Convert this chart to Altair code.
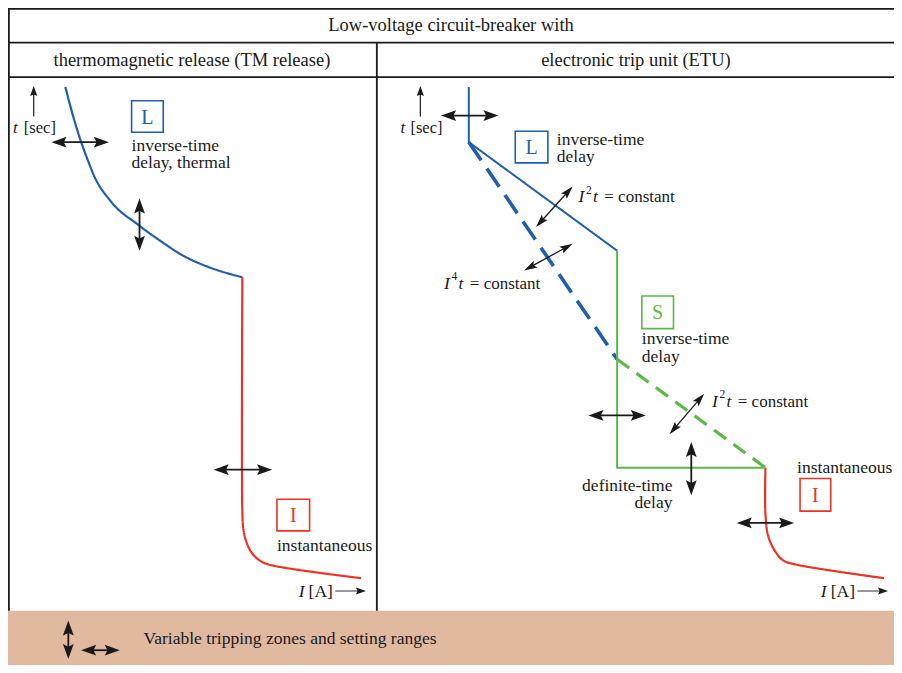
import math
import altair as alt
import pandas as pd

# ---------------- canvas: reference pixel units mapped onto the plot area ----------------
RX0, RX1 = 6, 902      # reference extent (x)
RY0, RY1 = 7, 673      # reference extent (y)
W, H = 886, 657        # plot area (fits inside the 902x673 window with its 8px margin)

BLUE = "#1f5fad"
RED = "#ec3326"
GREEN = "#5cb848"
TAN = "#e1b99f"
INK = "#1a1a1a"
GREY = "#555555"
SERIF = "Liberation Serif"

# ---------------- table frame ----------------
FRAME_H_Y = [7.8, 42, 77]
FRAME_H_X1 = [6, 6, 6]
FRAME_H_X2 = [902, 902, 902]
FRAME_V_X = [6.9, 379]
FRAME_V_Y1 = [7, 42]
FRAME_V_Y2 = [618, 618]
BAND = dict(x=6, x2=902, y=618, y2=673)

# ---------------- curves ----------------
# TM release, L (thermal inverse-time)
TM_L_X = [64, 70, 80, 87, 93, 110, 138, 160, 183, 210, 243]
TM_L_Y = [87, 110, 143, 162, 177, 203, 227, 243, 258, 270, 280]
# TM release, I (instantaneous)
TM_I_X = [243, 243, 244, 247, 253, 262, 273, 363]
TM_I_Y = [280, 518, 535, 548, 560, 568, 572, 585]
# ETU, L
ETU_L_X = [472, 472, 622]
ETU_L_Y = [87, 143, 253]
ETU_L4_X = [472, 622]
ETU_L4_Y = [143, 363]
# ETU, S
ETU_S_X = [622, 622, 772]
ETU_S_Y = [253, 473, 473]
ETU_S2_X = [622, 772]
ETU_S2_Y = [363, 473]
# ETU, I
ETU_I_X = [772, 772, 775, 782, 790, 802, 892]
ETU_I_Y = [473, 520, 543, 558, 567, 571, 585]

# (name, x, y, colour, width, dash, interpolation)
curves = [
    ("tm_l", TM_L_X, TM_L_Y, BLUE, 2.2, [1, 0], "monotone"),
    ("tm_i", TM_I_X, TM_I_Y, RED, 2.2, [1, 0], "catmull-rom"),
    ("etu_l", ETU_L_X, ETU_L_Y, BLUE, 2.0, [1, 0], "linear"),
    ("etu_l4", ETU_L4_X, ETU_L4_Y, BLUE, 3.6, [22, 10], "linear"),
    ("etu_s", ETU_S_X, ETU_S_Y, GREEN, 2.0, [1, 0], "linear"),
    ("etu_s2", ETU_S2_X, ETU_S2_Y, GREEN, 3.2, [15, 9], "linear"),
    ("etu_i", ETU_I_X, ETU_I_Y, RED, 2.2, [1, 0], "catmull-rom"),
]

# ---------------- arrows: (x1, y1, x2, y2, double-headed, kind) ----------------
ARROWS = [
    (50, 143, 108, 143, True, "big"),
    (139, 200, 139, 253, True, "big"),
    (214, 475, 273, 475, True, "big"),
    (444, 116, 502, 116, True, "big"),
    (540, 229, 577, 188, True, "thin"),
    (528, 273, 577, 246, True, "thin"),
    (593, 420, 651, 420, True, "big"),
    (675, 439, 710, 398, True, "thin"),
    (697, 447, 697, 501, True, "big"),
    (743, 529, 801, 529, True, "big"),
    (67, 628, 67, 667, True, "big"),
    (80, 658, 119, 658, True, "big"),
    (32, 117, 32, 86, False, "axis"),
    (423, 117, 423, 86, False, "axis"),
    (337, 598, 368, 598, False, "axis"),
    (865, 598, 896, 598, False, "axis"),
]
# head length, shaft width
HEAD = {"big": (15, 1.8), "thin": (13, 1.3), "axis": (10, 1.2)}

# ---------------- boxes ----------------
BOX_LABEL = ["L", "I", "L", "S", "I"]
BOX_X1 = [131, 278, 519, 647, 807]
BOX_X2 = [163, 311, 552, 679, 838]
BOX_Y1 = [101, 505, 132, 299, 484]
BOX_Y2 = [133, 537, 164, 332, 517]
BOX_COLOR = [BLUE, RED, BLUE, GREEN, RED]

# ---------------- texts ----------------
TXT_CENTER = [
    ("Low-voltage circuit-breaker with", 454, 24, 18.5),
    ("thermomagnetic release (TM release)", 192, 60, 18.5),
    ("electronic trip unit (ETU)", 641, 60, 18.5),
]
TXT_LEFT = [
    ("inverse-time", 131, 147, 17.5),
    ("delay, thermal", 131, 164, 17.5),
    ("instantaneous", 278, 552, 17.5),
    ("inverse-time", 561, 141, 17.5),
    ("delay", 561, 158, 17.5),
    ("inverse-time", 647, 343, 17.5),
    ("delay", 647, 361, 17.5),
    ("instantaneous", 804, 473, 17.5),
    ("Variable tripping zones and setting ranges", 143, 647, 17.5),
    ("[sec]", 22, 129, 16.5),
    ("[sec]", 413, 129, 16.5),
    ("[A]", 310, 599, 17.5),
    ("[A]", 838, 599, 17.5),
    ("= constant", 609, 199, 17),
    ("= constant", 473, 287, 17),
    ("= constant", 744, 406, 17),
]
TXT_RIGHT = [
    ("definite-time", 678, 492, 17.5),
    ("delay", 678, 509, 17.5),
]
TXT_ITALIC = [
    ("t", 11, 129, 17), ("t", 403, 129, 17),
    ("I", 300, 599, 17.5), ("I", 828, 599, 17.5),
    ("I", 583, 199, 17.5), ("t", 597.5, 199, 17.5),
    ("I", 447, 287, 17.5), ("t", 461.5, 287, 17.5),
    ("I", 718, 406, 17.5), ("t", 732.5, 406, 17.5),
]
TXT_SUP = [("2", 590.5, 192, 11.5), ("4", 454.5, 280, 11.5), ("2", 725.5, 399, 11.5)]

# ---------------- build tables ----------------
xs = alt.Scale(domain=[RX0, RX1], range=[0, W])
ys = alt.Scale(domain=[RY0, RY1], range=[0, H])

rows = []
for name, cx, cy, col, sw, dash, interp in curves:
    for i, (a, b) in enumerate(zip(cx, cy)):
        rows.append(dict(g=name, i=i, x=a, y=b, c=col, w=sw, d=dash, m=interp))
curve_df = pd.DataFrame(rows)

shafts, heads = [], []
for (x1, y1, x2, y2, dbl, kind) in ARROWS:
    L, sw = HEAD[kind]
    dx, dy = x2 - x1, y2 - y1
    n = math.hypot(dx, dy)
    ux, uy = dx / n, dy / n
    back = L * 0.6
    sx1, sy1 = (x1 + ux * back, y1 + uy * back) if dbl else (x1, y1)
    sx2, sy2 = x2 - ux * back, y2 - uy * back
    shafts.append(dict(x=sx1, y=sy1, x2=sx2, y2=sy2, c=(GREY if kind == "axis" and not dbl and dy == 0 else INK), w=sw))
    ang = math.degrees(math.atan2(ux, -uy)) % 360
    heads.append(dict(x=x2, y=y2, a=ang, s=(2 * L) ** 2, k=kind))
    if dbl:
        heads.append(dict(x=x1, y=y1, a=(ang + 180) % 360, s=(2 * L) ** 2, k=kind))
shaft_df = pd.DataFrame(shafts)
head_df = pd.DataFrame(heads)

frame_h = pd.DataFrame(dict(x=FRAME_H_X1, x2=FRAME_H_X2, y=FRAME_H_Y))
frame_v = pd.DataFrame(dict(x=FRAME_V_X, y=FRAME_V_Y1, y2=FRAME_V_Y2))
band_df = pd.DataFrame([BAND])
box_df = pd.DataFrame(dict(t=BOX_LABEL, x=BOX_X1, x2=BOX_X2, y=BOX_Y1, y2=BOX_Y2, c=BOX_COLOR))
box_df["cx"] = (box_df.x + box_df.x2) / 2
box_df["cy"] = (box_df.y + box_df.y2) / 2


def tdf(lst):
    return pd.DataFrame(lst, columns=["t", "x", "y", "s"])


X = lambda f="x": alt.X(f"{f}:Q", scale=xs, axis=None)
Y = lambda f="y": alt.Y(f"{f}:Q", scale=ys, axis=None)

band = alt.Chart(band_df).mark_rect(color=TAN).encode(
    x=X(), x2="x2:Q", y=Y(), y2="y2:Q")
fh = alt.Chart(frame_h).mark_rule(color=INK, strokeWidth=1.8).encode(
    x=X(), x2="x2:Q", y=Y())
fv = alt.Chart(frame_v).mark_rule(color=INK, strokeWidth=1.8).encode(
    x=X(), y=Y(), y2="y2:Q")

line_layers = []
for interp in ["monotone", "catmull-rom", "linear"]:
    d = curve_df[curve_df.m == interp]
    line_layers.append(
        alt.Chart(d).mark_line(strokeCap="butt", strokeJoin="round", interpolate=interp).encode(
            x=X(), y=Y(), detail="g:N", order="i:Q",
            color=alt.Color("c:N", scale=None),
            strokeWidth=alt.StrokeWidth("w:Q", scale=None),
            strokeDash=alt.StrokeDash("d", scale=None),
        )
    )

shaft = alt.Chart(shaft_df).mark_rule().encode(
    x=X(), y=Y(), x2="x2:Q", y2="y2:Q",
    color=alt.Color("c:N", scale=None),
    strokeWidth=alt.StrokeWidth("w:Q", scale=None),
)

HEAD_SHAPE = {"big": "M0,0L0.36,1L0,0.82L-0.36,1Z",
              "thin": "M0,0L0.3,1L0,0.82L-0.3,1Z",
              "axis": "M0,0L0.36,1L0,0.85L-0.36,1Z"}
head_layers = []
for k, shp in HEAD_SHAPE.items():
    d = head_df[head_df.k == k]
    if len(d):
        head_layers.append(
            alt.Chart(d).mark_point(shape=shp, filled=True, color=INK, opacity=1, strokeWidth=0).encode(
                x=X(), y=Y(),
                angle=alt.Angle("a:Q", scale=None),
                size=alt.Size("s:Q", scale=None),
            )
        )

boxes = alt.Chart(box_df).mark_rect(fill="white", fillOpacity=0, strokeWidth=1.6).encode(
    x=X(), x2="x2:Q", y=Y(), y2="y2:Q", stroke=alt.Stroke("c:N", scale=None))
box_txt = alt.Chart(box_df).mark_text(font=SERIF, fontSize=20, align="center", baseline="middle", dy=1).encode(
    x=X("cx"), y=Y("cy"), text="t:N", color=alt.Color("c:N", scale=None))


def txt(lst, align, style="normal"):
    return alt.Chart(tdf(lst)).mark_text(font=SERIF, align=align, baseline="middle",
                                         fontStyle=style, color=INK).encode(
        x=X(), y=Y(), text="t:N", size=alt.Size("s:Q", scale=None))


layers = [band, fh, fv] + line_layers + [shaft] + head_layers + [
    boxes, box_txt,
    txt(TXT_CENTER, "center"), txt(TXT_LEFT, "left"), txt(TXT_RIGHT, "right"),
    txt(TXT_ITALIC, "left", "italic"), txt(TXT_SUP, "left"),
]

chart = alt.layer(*layers).properties(
    width=W, height=H, padding=0, autosize=alt.AutoSizeParams(type="none"),
    background="white",
).configure_view(stroke=None)

chart.save("out.html", embed_options={"renderer": "svg", "actions": False})
